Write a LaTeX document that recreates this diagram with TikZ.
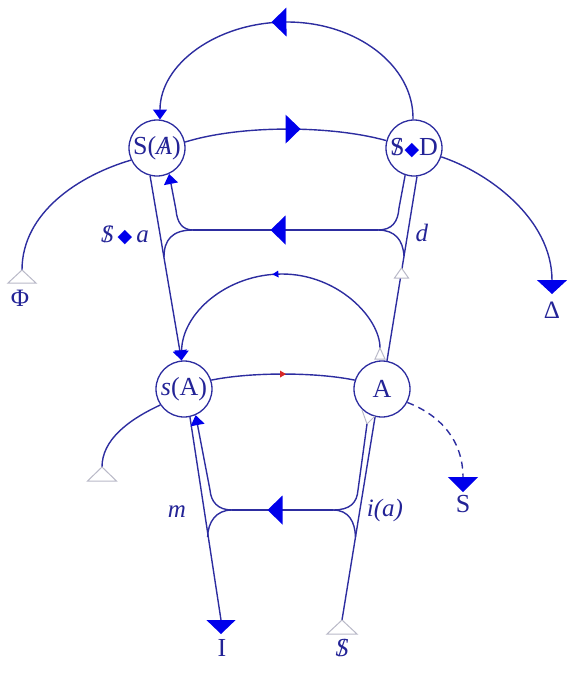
\documentclass[tikz,border=0pt]{standalone}
\usepackage{fontspec}
\setmainfont{Liberation Serif}
\newfontfamily\dejavu{DejaVu Sans}
\usetikzlibrary{arrows.meta,decorations.markings}
\definecolor{lineblue}{RGB}{45,45,160}
\definecolor{fillblue}{RGB}{0,0,235}
\definecolor{textblue}{RGB}{35,35,150}
\definecolor{tricol}{RGB}{185,185,200}
\definecolor{redtip}{RGB}{215,40,40}
\newcommand\barSu{\ooalign{S\cr\hidewidth/\hidewidth}}
\newcommand\barSi{\ooalign{\textit{S}\cr\hidewidth/\hidewidth}}
\newcommand\barAi{\ooalign{\textit{A}\cr\hidewidth/\hidewidth}}
\newcommand\lozb{{\color{fillblue}\dejavu\fontsize{19}{19}\selectfont ◆}}
\tikzset{
  nd/.style={circle, draw=lineblue, line width=1.3pt, minimum size=56pt, inner sep=0pt, text=textblue, font=\fontsize{26}{30}\selectfont},
  lbl/.style={text=textblue, inner sep=0pt, font=\fontsize{25}{30}\selectfont},
  conn/.style={draw=lineblue, line width=1.4pt},
  opentri/.style={draw=tricol, line width=1pt, fill=white},
  grayout/.style={draw=tricol, line width=1pt},
  tipin/.tip={Triangle[length=10pt,width=14pt,color=fillblue]},
  tipbig/.tip={Triangle[length=14pt,width=29pt,color=fillblue]},
  bigmid/.style={postaction={decorate}, decoration={markings, mark=at position 0.5 with {\fill[fillblue] (15,0) -- (0,-14.5) -- (0,14.5) -- cycle;}}},
  smallmid/.style={postaction={decorate}, decoration={markings, mark=at position 0.5 with {\fill[#1] (3,0) -- (-3,-3.5) -- (-3,3.5) -- cycle;}}}
}
\begin{document}
\begin{tikzpicture}[x=1pt,y=-1pt]
\useasboundingbox (0,0) rectangle (574,673);
% nodes
\node[nd] (SA) at (157,148) {\makebox[0pt]{S(\barAi)}};
\node[nd] (SD) at (414,148) {\makebox[0pt]{\barSu\lozb D}};
\node[nd] (sA) at (184,389) {\makebox[0pt]{\textit{s}(A)}};
\node[nd] (A) at (382,389) {\makebox[0pt]{A}};
% free ends
\coordinate (phi) at (22,270);
\coordinate (lowL) at (102,467);
\coordinate (delta) at (552,294);
\coordinate (Send) at (463,492);
\coordinate (Ibase) at (221,620);
\coordinate (Iend) at (221,634);
\coordinate (Sbar) at (342,620);
\coordinate (fUL) at (193,230);
\coordinate (fUR) at (378,230);
\coordinate (fLL) at (232,510);
\coordinate (fLR) at (333,510);
\coordinate (aTop) at (380,348);
\coordinate (aBot) at (367,424);
% top arc
\draw[conn, bigmid, -{tipin}] (SD.92) .. controls (414,66) and (357,22) .. (287,22) .. controls (217,22) and (160,64) .. (SA.84);
% S(A) -> S<>D
\draw[conn, bigmid] (SA.12) .. controls (240,125) and (330,125) .. (SD.165);
% Phi
\draw[conn] (SA.205) .. controls (80,175) and (22,212) .. (phi);
\draw[opentri] (phi) -- ++(-14,13) -- ++(28,0) -- cycle;
% Delta
\draw[conn, -{Triangle[length=14pt,width=30pt,color=fillblue]}] (SD.-18) .. controls (487,172) and (552,218) .. (delta);
% S(A) -> s(A)
\draw[conn, -{tipin}] (SA.256) -- (sA.95);
% A -> S<>D (d)
\draw[conn] (A.80) -- (SD.276);
\draw[opentri] (401.5,268) -- ++(-7,10) -- ++(14,0) -- cycle;
% upper retroversion
\draw[conn] (SD.252) -- (399,208) .. controls (398,222) and (392,230) .. (fUR);
\draw[conn, bigmid] (fUR) -- (fUL);
\draw[conn, -{tipin}] (fUL) .. controls (182,230) and (177,222) .. (176,210) -- (SA.295);
\draw[conn] (fUR) .. controls (395,230) and (403,240) .. (404,256);
\draw[conn] (fUL) .. controls (172,230) and (164,240) .. (164,257);
% A -> s(A) arc
\draw[conn, smallmid=fillblue, -{tipin}] (aTop) .. controls (380,318) and (338,274) .. (282,274) .. controls (227,274) and (182,313) .. (sA.95);
\draw[grayout] (aTop) -- (375,359) -- (385,359) -- cycle;
% s(A) -> A
\draw[conn, smallmid=redtip] (sA.18) .. controls (250,372) and (316,372) .. (A.162);
% lower left branch
\draw[conn] (sA.214) .. controls (128,420) and (102,440) .. (lowL);
\draw[opentri] (lowL) -- ++(-14.5,14) -- ++(29,0) -- cycle;
% dashed
\draw[conn, dash pattern=on 7pt off 5pt, -{Triangle[length=15pt,width=30pt,color=fillblue]}] (A.-28) .. controls (440,415) and (463,440) .. (Send);
% s(A) -> I
\draw[conn, -{tipbig}] (sA.-78) -- (Ibase) -- (Iend);
% $ -> A
\draw[conn] (Sbar) -- (A.256);
\draw[opentri] (Sbar) -- ++(-15,14) -- ++(30,0) -- cycle;
% lower retroversion
\draw[grayout] (362,410) -- (aBot) -- (375,416);
\draw[conn] (aBot) -- (358,490) .. controls (357,503) and (350,510) .. (fLR);
\draw[conn, bigmid] (fLR) -- (fLL);
\draw[conn, -{tipin}] (fLL) .. controls (218,510) and (211,502) .. (210,490) -- (sA.-66);
\draw[conn] (fLL) .. controls (216,510) and (208,522) .. (207.6,537);
\draw[conn] (fLR) .. controls (349,510) and (355,522) .. (355.5,537);
% labels
\node[lbl] (lSa) at (125,235) {\barSi\,\lozb\,\textit{a}};
\node[lbl] (ld) at (422,233) {\textit{d}};
\node[lbl] (lm) at (177,512) {\textit{m}};
\node[lbl] (lia) at (385,510) {\textit{i(a)}};
\node[lbl] (lphi) at (20,298) {Φ};
\node[lbl] (ldelta) at (552,310) {Δ};
\node[lbl, font=\fontsize{26}{30}\selectfont] (lS) at (463,504) {S};
\node[lbl, font=\fontsize{26}{30}\selectfont] (lI) at (222,648) {I};
\node[lbl, font=\fontsize{26}{30}\selectfont] (lSb) at (342,648) {\barSi};
\end{tikzpicture}
\end{document}
